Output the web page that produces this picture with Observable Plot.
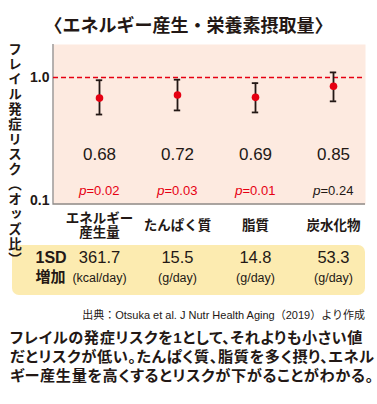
<!DOCTYPE html>
<html><head><meta charset="utf-8">
<script src="https://cdn.jsdelivr.net/npm/d3@7"></script>
<script src="https://cdn.jsdelivr.net/npm/@observablehq/plot@0.6"></script>
<style>
body{margin:0;background:#fff;}
#wrap{position:relative;width:377px;height:404px;font-family:"Liberation Sans","Noto Sans CJK JP",sans-serif;color:#231815;}
#title{box-sizing:border-box;height:40px;padding-top:14px;line-height:20px;text-align:center;font-size:18px;font-weight:700;font-family:"Noto Sans CJK JP",sans-serif;}
#ylab{position:absolute;left:6px;top:42px;writing-mode:vertical-rl;font-size:13.5px;font-weight:700;font-family:"Noto Sans CJK JP",sans-serif;line-height:17px;letter-spacing:1.5px;}
#src{position:absolute;top:308px;right:12px;font-size:11px;line-height:14px;white-space:nowrap;font-family:"Liberation Sans","Noto Sans CJK JP",sans-serif;}
#note{position:absolute;top:328px;left:10px;font-size:15.2px;line-height:19px;font-weight:700;white-space:nowrap;font-family:"Liberation Sans","Noto Sans CJK JP",sans-serif;font-feature-settings:"palt";letter-spacing:0.6px;}
#chart svg{display:block;}
</style></head>
<body>
<div id="wrap">
<div id="title">〈エネルギー産生・栄養素摂取量〉</div>
<div id="chart"></div>
<div id="ylab">フレイル発症リスク（オッズ比）</div>
<div id="src">出典：Otsuka et al. J Nutr Health Aging（2019）より作成</div>
<div id="note">フレイルの発症リスクを1として、それよりも小さい値<br>だとリスクが低い。たんぱく質、脂質を多く摂り、エネル<br>ギー産生量を高くするとリスクが下がることがわかる。</div>
</div>
<script>
const categories = ["エネルギー\n産生量", "たんぱく質", "脂質", "炭水化物"];
const oddsRatios = [0.68, 0.72, 0.69, 0.85];
const ciLow = [0.50, 0.54, 0.52, 0.64];
const ciHigh = [0.95, 0.96, 0.90, 1.10];
const pValues = ["0.02", "0.03", "0.01", "0.24"];
const significant = [true, true, true, false];
const sdValues = ["361.7", "15.5", "14.8", "53.3"];
const sdUnits = ["(kcal/day)", "(g/day)", "(g/day)", "(g/day)"];
const yTicks = [0.1, 1.0];
const referenceOR = 1;
const yDomain = [0.0928, 1.855];

const RED = "#e60012", INK = "#231815";
const rows = categories.map((c, i) => ({
  cat: c, or: oddsRatios[i], lo: ciLow[i], hi: ciHigh[i],
  p: pValues[i], sig: significant[i], sd: sdValues[i], unit: sdUnits[i]
}));

const decor = (index, scales, values, d) => {
  const g = d3.create("svg:g");
  const l = d.marginLeft, r = d.width - d.marginRight, t = d.marginTop, b = d.height - d.marginBottom;
  g.append("rect").attr("x", 12).attr("y", b + 41).attr("width", r - 12).attr("height", 50)
    .attr("rx", 7).attr("fill", "#fcebb0");
  g.append("path").attr("d", `M${l},${t}V${b}H${r}`).attr("fill", "none")
    .attr("stroke", "#8e8a88").attr("stroke-width", 1.3);
  return g.node();
};

const plot = Plot.plot({
  width: 377, height: 260,
  marginTop: 4, marginLeft: 53, marginRight: 12, marginBottom: 96,
  style: {fontFamily: '"Liberation Sans","Noto Sans CJK JP",sans-serif', fontSize: "14px", color: INK, background: "transparent", fontWeight: "600"},
  x: {type: "band", domain: categories, padding: 0, insetLeft: 5.67, insetRight: -8.33, axis: null},
  y: {type: "log", domain: yDomain, ticks: yTicks, tickFormat: d => d.toFixed(1), tickSize: 0, tickPadding: 4, label: null},
  marks: [
    Plot.frame({fill: "#fdeae0", stroke: "none"}),
    decor,
    Plot.ruleY([referenceOR], {stroke: RED, strokeWidth: 1.3, strokeDasharray: "5,3"}),
    Plot.ruleX(rows, {x: "cat", y1: "lo", y2: "hi", stroke: INK, strokeWidth: 1.8}),
    Plot.tickY(rows, {x: "cat", y: "lo", stroke: INK, strokeWidth: 1.8, insetLeft: 35.8, insetRight: 35.8}),
    Plot.tickY(rows, {x: "cat", y: "hi", stroke: INK, strokeWidth: 1.8, insetLeft: 35.8, insetRight: 35.8}),
    Plot.dot(rows, {x: "cat", y: "or", r: 3.8, fill: RED}),
    Plot.text(rows, {x: "cat", text: d => d.or.toFixed(2), frameAnchor: "top", dy: 103, fontSize: 17, fontWeight: 500, fill: INK}),
    Plot.text(rows, {x: "cat", text: () => "p", frameAnchor: "top", dy: 141, dx: -13, textAnchor: "end", fontSize: 13.5, fontStyle: "italic", fontWeight: 400, fill: d => d.sig ? RED : INK}),
    Plot.text(rows, {x: "cat", text: d => "=" + d.p, frameAnchor: "top", dy: 141, dx: -13, textAnchor: "start", fontSize: 13, fontWeight: 400, fill: d => d.sig ? RED : INK}),
    Plot.text(rows, {x: "cat", text: "cat", frameAnchor: "bottom", dy: 21, lineAnchor: "middle", lineHeight: 1.08, fontSize: 13.5, fontWeight: 700, fill: INK, fontFamily: '"Liberation Sans","Noto Sans CJK JP",sans-serif'}),
    Plot.text(["1SD"], {frameAnchor: "bottom-left", dx: -18, dy: 58, fontSize: 16, fontWeight: 700, fill: INK}),
    Plot.text(["増加"], {frameAnchor: "bottom-left", dx: -18, dy: 77, fontSize: 15, fontWeight: 700, fill: INK, fontFamily: '"Noto Sans CJK JP",sans-serif'}),
    Plot.text(rows, {x: "cat", text: "sd", frameAnchor: "bottom", dy: 58, fontSize: 16.5, fontWeight: 500, fill: INK}),
    Plot.text(rows, {x: "cat", text: "unit", frameAnchor: "bottom", dy: 77, fontSize: 12.5, fontWeight: 400, fill: INK})
  ]
});
document.getElementById("chart").appendChild(plot);
</script>
</body></html>
